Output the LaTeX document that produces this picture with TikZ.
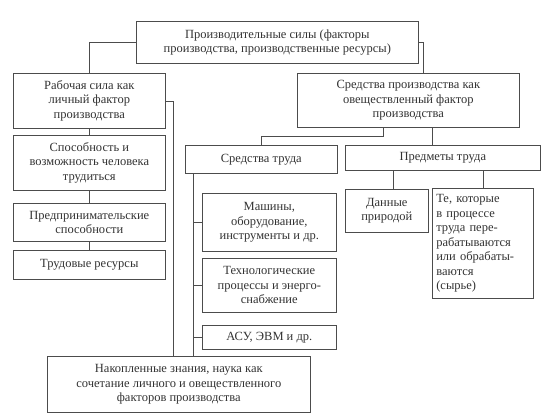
\documentclass[tikz,border=0pt]{standalone}
\usepackage{fontspec}
\setmainfont{Liberation Serif}
\usetikzlibrary{positioning, calc}

\begin{document}
\begin{tikzpicture}[
  x=1pt, y=-1pt,
  blok/.style={draw=black!70, line width=0.6pt, anchor=north west,
               align=center, inner sep=2pt, text=black!80,
               font=\fontsize{12.5}{14.5}\selectfont},
  svyaz/.style={draw=black!70, line width=0.6pt}
]
\useasboundingbox (0,0) rectangle (547,415);

\node[blok, minimum width=282, minimum height=42] (sily) at (136,21)
  {Производительные силы (факторы\\производства, производственные ресурсы)};

\node[blok, minimum width=152, minimum height=55] (rabsila) at (13,73)
  {Рабочая сила как\\личный фактор\\производства};
\node[blok, minimum width=222, minimum height=54] (sredprod) at (297,73)
  {Средства производства как\\овеществленный фактор\\производства};

% left column
\node[blok, minimum width=152, minimum height=55] (sposob) at (13,135)
  {Способность и\\возможность человека\\трудиться};
\node[blok, minimum width=152, minimum height=38] (predpr) at (13,203)
  {Предпринимательские\\способности};
\node[blok, minimum width=152, minimum height=29] (resursy) at (13,250)
  {Трудовые ресурсы};

% means of labour
\node[blok, minimum width=152, minimum height=28] (sredtr) at (185,145)
  {Средства труда};
\node[blok, minimum width=134, minimum height=58] (mashiny) at (202,193)
  {Машины,\\оборудование,\\инструменты и др.};
\node[blok, minimum width=134, minimum height=54] (tehproc) at (202,258)
  {Технологические\\процессы и энерго-\\снабжение};
\node[blok, minimum width=134, minimum height=24] (asu) at (202,325)
  {АСУ, ЭВМ и др.};

% objects of labour
\node[blok, minimum width=195, minimum height=25] (predmety) at (345,145)
  {Предметы труда};
\node[blok, minimum width=83, minimum height=43] (dannye) at (345,189)
  {Данные\\природой};
\node[blok, minimum width=101, minimum height=110, align=left,
      text width=93] (syrie) at (432,188)
  {Те, которые\\в процессе\\труда пере-\\рабатываются\\или обрабаты-\\ваются\\(сырье)};

\node[blok, minimum width=263, minimum height=56] (znaniya) at (47,356)
  {Накопленные знания, наука как\\сочетание личного и овеществленного\\факторов производства};

% connectors
\draw[svyaz] (sily.west) -| (rabsila.north);
\draw[svyaz] (sily.east) -| ($(sredprod.north)+(15,0)$);

\draw[svyaz] (rabsila.south) -- (sposob.north);
\draw[svyaz] (sposob.south) -- (predpr.north);
\draw[svyaz] (predpr.south) -- (resursy.north);
\draw[svyaz] (rabsila.east) -- ++(8,0) coordinate (lbus) -- (lbus |- znaniya.north);

\draw[svyaz] ([xshift=-25pt]sredprod.south) -- ++(0,9) -| (sredtr.north);
\draw[svyaz] ([xshift=24pt]sredprod.south) -- ([xshift=24pt]sredprod.south |- predmety.north);

\coordinate (sbus) at ($(sredtr.south west)+(8,0)$);
\draw[svyaz] (sbus) -- (sbus |- znaniya.north);
\draw[svyaz] (mashiny.west) -- (mashiny.west -| sbus);
\draw[svyaz] (tehproc.west) -- (tehproc.west -| sbus);
\draw[svyaz] (asu.west) -- (asu.west -| sbus);

\draw[svyaz] ([xshift=6pt]dannye.north |- predmety.south) -- ([xshift=6pt]dannye.north);
\draw[svyaz] (syrie.north |- predmety.south) -- (syrie.north);

\end{tikzpicture}
\end{document}
